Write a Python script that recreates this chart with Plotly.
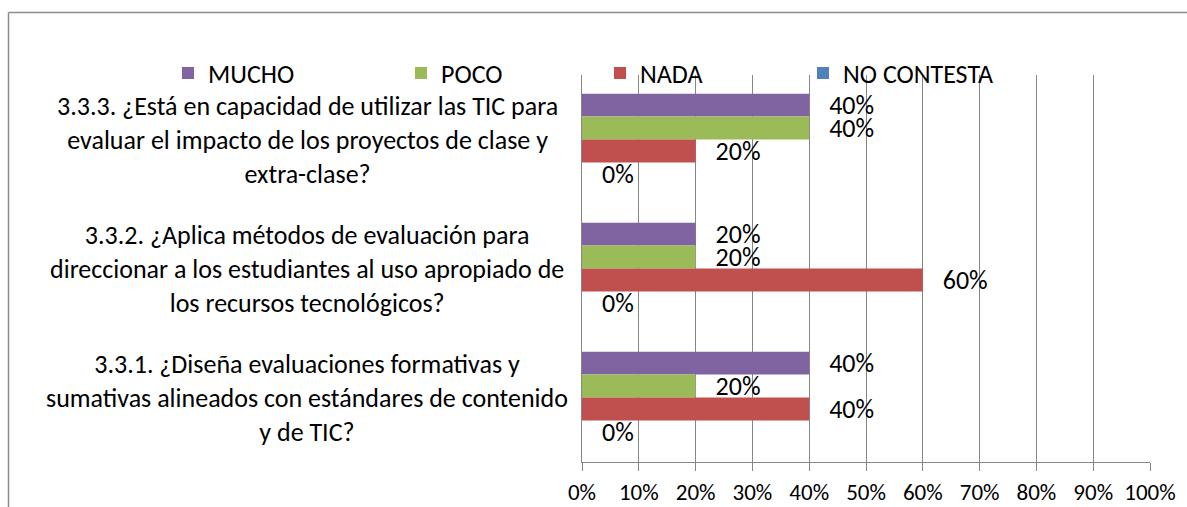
import plotly.graph_objects as go

categories = [
    "3.3.3. ¿Está en capacidad de utilizar las TIC para<br>evaluar el impacto de los proyectos de clase y<br>extra-clase?",
    "3.3.2. ¿Aplica métodos de evaluación para<br>direccionar a los estudiantes al uso apropiado de<br>los recursos tecnológicos?",
    "3.3.1. ¿Diseña evaluaciones formativas y<br>sumativas alineados con estándares de contenido<br>y de TIC?",
]
series_names = ["MUCHO", "POCO", "NADA", "NO CONTESTA"]
mucho = [0.40, 0.20, 0.40]
poco = [0.40, 0.20, 0.20]
nada = [0.20, 0.60, 0.40]
no_contesta = [0.0, 0.0, 0.0]
series_values = [mucho, poco, nada, no_contesta]
colors = ["#8064A2", "#9BBB59", "#C0504D", "#4F81BD"]
tick_vals = [i / 10 for i in range(11)]
tick_text = [f"{i * 10}%" for i in range(11)]

W, H = 1187, 507
L, R, T, B = 582, 37, 75, 45
pw, ph = W - L - R, H - T - B

def px_x(p):
    return (p - L) / pw

def px_y(p):
    return (H - B - p) / ph

FONT = "Calibri, Carlito, Lato, sans-serif"
FS_CAT = 26
FS_LEG = 26
FS_TICK = 23
FS_LAB = 26

fig = go.Figure()
legend_x_px = [168, 401, 600, 803]
for i, (name, vals, col) in enumerate(zip(series_names, series_values, colors)):
    lg = "legend" if i == 0 else f"legend{i + 1}"
    fig.add_trace(go.Bar(
        y=categories, x=vals, name=name, orientation="h",
        marker=dict(color=col, line=dict(width=0)),
        text=[f"\u00a0\u00a0\u2009{round(v * 100)}%" for v in vals],
        textposition="outside", textangle=0, constraintext="none",
        textfont=dict(family=FONT, size=FS_LAB, color="black"),
        cliponaxis=False, legend=lg, hoverinfo="skip",
    ))

layout_legends = {}
for i in range(4):
    lg = "legend" if i == 0 else f"legend{i + 1}"
    layout_legends[lg] = dict(
        x=px_x(legend_x_px[i]), y=px_y(73), xanchor="left", yanchor="middle",
        orientation="h", bgcolor="rgba(0,0,0,0)",
        font=dict(family=FONT, size=FS_LEG, color="black"),
    )

annotations = []
for c in categories:
    annotations.append(dict(
        xref="paper", yref="y", x=px_x(307), y=c, text=c, showarrow=False,
        xanchor="center", yanchor="middle", align="center",
        font=dict(family=FONT, size=FS_CAT, color="black"),
    ))

shapes = [
    dict(type="line", xref="paper", yref="paper", x0=px_x(8.5), x1=px_x(1190),
         y0=px_y(12.5), y1=px_y(12.5), line=dict(color="#8C8C8C", width=1.5)),
    dict(type="line", xref="paper", yref="paper", x0=px_x(8.5), x1=px_x(8.5),
         y0=px_y(12.5), y1=px_y(510), line=dict(color="#8C8C8C", width=1.5)),
]

fig.update_layout(
    width=W, height=H,
    margin=dict(l=L, r=R, t=T, b=B, autoexpand=False),
    paper_bgcolor="white", plot_bgcolor="white",
    barmode="group", bargap=0.29, bargroupgap=0,
    showlegend=True,
    annotations=annotations, shapes=shapes,
    **layout_legends,
)
fig.update_xaxes(
    range=[0, 1], tickvals=tick_vals, ticktext=tick_text,
    showgrid=True, gridcolor="#868686", gridwidth=1,
    showline=True, linecolor="#868686", linewidth=1,
    ticks="outside", ticklen=8, tickcolor="#868686",
    ticklabelstandoff=1, automargin=False,
    zeroline=False,
    tickfont=dict(family=FONT, size=FS_TICK, color="black"),
)
fig.update_yaxes(
    autorange="reversed", showticklabels=False, automargin=False,
    showline=True, linecolor="#868686", linewidth=1,
    showgrid=False, zeroline=False, ticks="",
)

fig.write_html(
    "out.html",
    config={"displayModeBar": False},
    post_script="document.body.style.margin='0px';document.body.style.overflow='hidden';",
)
